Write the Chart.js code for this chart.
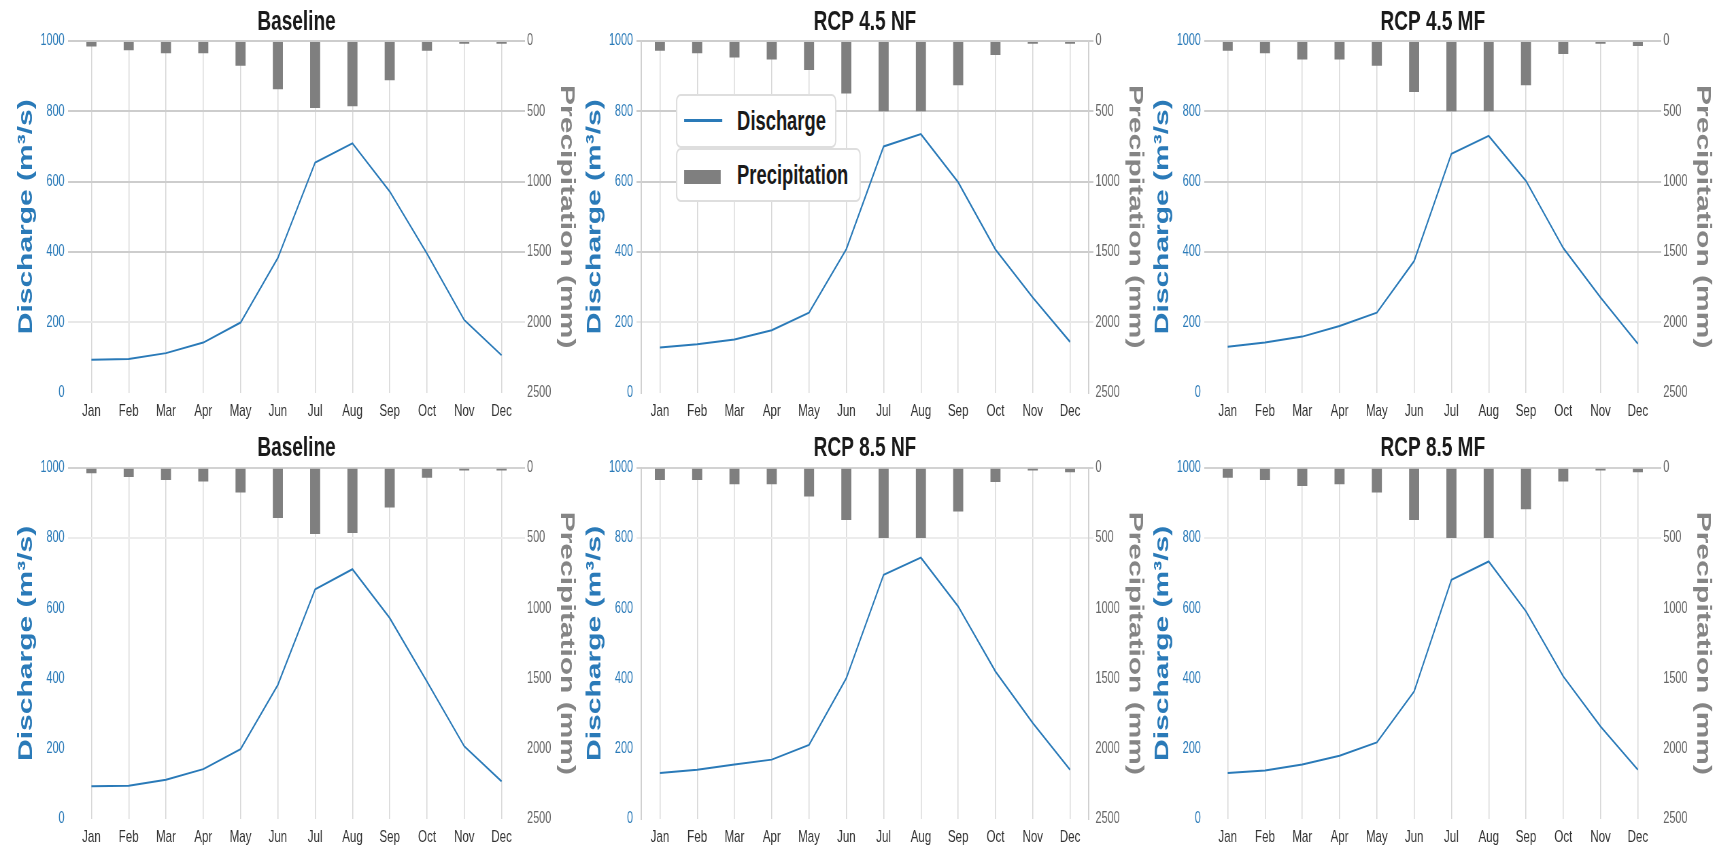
<!DOCTYPE html>
<html>
<head>
<meta charset="utf-8">
<script src="https://cdn.jsdelivr.net/npm/chart.js@4/dist/chart.umd.min.js"></script>
<style>
  html, body { margin: 0; padding: 0; background: #fff; overflow: hidden; }
  #stage {
    position: absolute; left: 0; top: 0;
    width: 2528px; height: 849px;
    transform: scaleX(0.68); transform-origin: 0 0;
  }
  #stage canvas { position: absolute; }
  .lg-box {
    position: absolute; background: #fff;
    border: 2px solid #dedede; border-radius: 7px;
    font-family: "Liberation Sans", Arial, sans-serif;
    font-weight: bold; font-size: 27px; color: #1a1a1a;
  }
  .lg-box span { position: absolute; left: 88px; top: 50%; transform: translateY(-50%); white-space: nowrap; }
  .lg-line { position: absolute; left: 10px; width: 56px; height: 3px; background: #2a7ab8; top: 50%; margin-top: -2px; }
  .lg-rect { position: absolute; left: 10px; width: 54px; height: 14px; background: #7f7f7f; top: 50%; margin-top: -5px; }
</style>
</head>
<body>
<div id="stage">
  <canvas id="c0" width="838" height="425" style="left:17px;top:0px"></canvas>
  <canvas id="c1" width="838" height="425" style="left:853px;top:0px"></canvas>
  <canvas id="c2" width="838" height="425" style="left:1688px;top:0px"></canvas>
  <canvas id="c3" width="838" height="424" style="left:17px;top:425px"></canvas>
  <canvas id="c4" width="838" height="424" style="left:853px;top:425px"></canvas>
  <canvas id="c5" width="838" height="424" style="left:1688px;top:425px"></canvas>

  <div class="lg-box" style="left:994px;top:94px;width:232px;height:50px;">
    <div class="lg-line"></div><span>Discharge</span>
  </div>
  <div class="lg-box" style="left:994px;top:148px;width:268px;height:50px;">
    <div class="lg-rect"></div><span>Precipitation</span>
  </div>
</div>

<script>
// months and panel titles
const months = ['Jan', 'Feb', 'Mar', 'Apr', 'May', 'Jun', 'Jul', 'Aug', 'Sep', 'Oct', 'Nov', 'Dec'];
const panelTitles = ['Baseline', 'RCP 4.5 NF', 'RCP 4.5 MF', 'Baseline', 'RCP 8.5 NF', 'RCP 8.5 MF'];

// discharge (m3/s)
const qBaselineTop = [93, 95, 112, 142, 199, 383, 654, 709, 572, 395, 206, 106];
const qRcp45NF     = [128, 137, 151, 177, 227, 408, 700, 735, 598, 407, 270, 144];
const qRcp45MF     = [130, 142, 159, 189, 227, 374, 679, 730, 602, 411, 270, 139];
const qBaselineBot = [93, 95, 112, 142, 199, 382, 654, 711, 572, 391, 207, 107];
const qRcp85NF     = [131, 140, 155, 169, 211, 401, 695, 744, 605, 420, 273, 140];
const qRcp85MF     = [131, 138, 155, 180, 218, 363, 681, 733, 591, 406, 263, 140];

// precipitation (mm)
const pBaselineTop = [40, 66, 88, 88, 176, 343, 476, 464, 279, 69, 20, 20];
const pRcp45NF     = [69, 88, 117, 131, 207, 374, 500, 500, 314, 100, 20, 20];
const pRcp45MF     = [69, 88, 131, 131, 176, 362, 500, 500, 314, 93, 20, 35];
const pBaselineBot = [40, 66, 87, 99, 177, 358, 472, 465, 283, 71, 20, 20];
const pRcp85NF     = [87, 87, 118, 118, 205, 373, 500, 500, 311, 101, 20, 33];
const pRcp85MF     = [71, 87, 130, 118, 177, 373, 500, 500, 295, 99, 20, 33];

// axis ranges
const dischargeTicks = [0, 200, 400, 600, 800, 1000];
const precipTicks = [0, 500, 1000, 1500, 2000, 2500];

const dischargeSets = [qBaselineTop, qRcp45NF, qRcp45MF, qBaselineBot, qRcp85NF, qRcp85MF];
const precipSets = [pBaselineTop, pRcp45NF, pRcp45MF, pBaselineBot, pRcp85NF, pRcp85MF];

const BLUE = '#2a7ab8';
const GREY = '#7f7f7f';
Chart.defaults.font.family = '"Liberation Sans", Arial, sans-serif';

// which horizontal gridlines show, by tick position from the top (0 = top line)
function gridColor(topRow, posFromTop) {
    if (topRow) {
        if (posFromTop <= 3) return '#cdcdcd';
        if (posFromTop === 4) return '#e8e8e8';
        return 'rgba(0,0,0,0)';
    }
    if (posFromTop === 0) return '#d2d2d2';
    if (posFromTop === 1) return '#ececec';
    return 'rgba(0,0,0,0)';
}

function makePanel(i) {
    const topRow = i < 3;
    const middle = i % 3 === 1;
    const qMax = dischargeTicks[dischargeTicks.length - 1];
    const pMax = precipTicks[precipTicks.length - 1];

    new Chart(document.getElementById('c' + i), {
        type: 'bar',
        data: {
            labels: months,
            datasets: [
                {
                    type: 'line',
                    label: 'Discharge',
                    data: dischargeSets[i],
                    yAxisID: 'yQ',
                    borderColor: BLUE,
                    borderWidth: 2,
                    pointRadius: 0,
                    tension: 0,
                    order: 0
                },
                {
                    type: 'bar',
                    label: 'Precipitation',
                    data: precipSets[i],
                    yAxisID: 'yP',
                    backgroundColor: GREY,
                    barPercentage: 0.27,
                    categoryPercentage: 1,
                    order: 1
                }
            ]
        },
        options: {
            responsive: false,
            animation: false,
            layout: { padding: 0 },
            plugins: {
                legend: { display: false },
                tooltip: { enabled: false },
                title: {
                    display: true,
                    text: panelTitles[i],
                    color: '#1a1a1a',
                    font: { size: 28, weight: 'bold' },
                    padding: topRow ? { top: 5, bottom: 2.4 } : { top: 6.2, bottom: 2.9 }
                }
            },
            scales: {
                x: {
                    offset: true,
                    grid: { offset: false, color: '#d8d8d8', lineWidth: 1.5, drawTicks: false },
                    border: { display: false },
                    ticks: { color: '#333', font: { size: 17 }, padding: topRow ? 9 : 8, maxRotation: 0, autoSkip: false },
                    afterFit: s => { s.height = topRow ? 32.5 : 30; }
                },
                yQ: {
                    position: 'left',
                    min: dischargeTicks[0],
                    max: qMax,
                    ticks: { stepSize: 200, color: BLUE, font: { size: 16 }, padding: 5, callback: v => String(v) },
                    grid: {
                        lineWidth: 2,
                        tickLength: 7,
                        color: ctx => gridColor(topRow, Math.round((qMax - ctx.tick.value) / 200))
                    },
                    border: { display: middle, color: '#d0d0d0', width: 2 },
                    title: {
                        display: true,
                        text: 'Discharge (m³/s)',
                        color: BLUE,
                        font: { size: 30, weight: 'bold' },
                        padding: { top: 4, bottom: 4 }
                    },
                    afterFit: s => { s.width = 90; }
                },
                yP: {
                    position: 'right',
                    reverse: true,
                    min: precipTicks[0],
                    max: pMax,
                    ticks: { stepSize: 500, color: '#666', font: { size: 16 }, padding: 3, callback: v => String(v) },
                    grid: {
                        drawOnChartArea: false,
                        lineWidth: 2,
                        tickLength: 7,
                        color: ctx => gridColor(topRow, Math.round(ctx.tick.value / 500))
                    },
                    border: { display: middle, color: '#d0d0d0', width: 2 },
                    title: {
                        display: true,
                        text: 'Precipitation (mm)',
                        color: '#858585',
                        font: { size: 30, weight: 'bold' },
                        padding: { top: 4, bottom: 4 }
                    },
                    afterFit: s => { s.width = 90; }
                }
            }
        }
    });
}

for (let i = 0; i < 6; i++) makePanel(i);
</script>
</body>
</html>
